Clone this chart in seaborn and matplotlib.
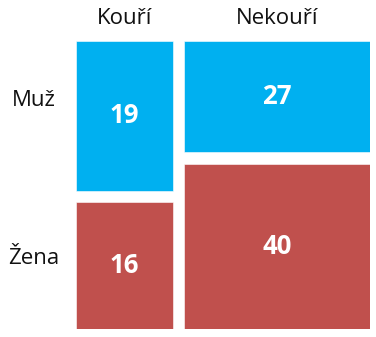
import numpy as np
import pandas as pd
import matplotlib
matplotlib.use("Agg")
import matplotlib.pyplot as plt
import seaborn as sns

columns = ["Kouří", "Nekouří"]
rows = ["Muž", "Žena"]
muz = [19, 27]
zena = [16, 40]
colors = {"Muž": "#00B0F0", "Žena": "#C0504D"}

sns.set_theme(style="white")
plt.rcParams['font.family'] = ['Open Sans', 'DejaVu Sans']

df = pd.DataFrame({"col": columns, "Muž": muz, "Žena": zena})
df["total"] = df["Muž"] + df["Žena"]
grand = df["total"].sum()

xgap = 0.039
ygap = 0.0415

fig = plt.figure(figsize=(3.76, 3.37), dpi=100)
W, H = 376, 337
ax = fig.add_axes([75.5 / W, 1 - 329 / H, (370 - 75.5) / W, (329 - 40.7) / H])

x0 = 0.0
for i, r in df.iterrows():
    w = r["total"] / grand
    y0 = 0.0
    for k, row in enumerate(rows):
        h = r[row] / r["total"]
        ax.bar(x0, h, width=w, bottom=y0, align="edge", color=colors[row],
               edgecolor="white", linewidth=0.4)
        ax.text(x0 + w / 2, y0 + h / 2, str(r[row]), color="white",
                fontsize=18.5, fontweight="bold", ha="center", va="center")
        y0 += h + ygap
    ax.text(x0 + w / 2, -0.082, r["col"], fontsize=16, ha="center",
            va="center", color="#111111")
    x0 += w + xgap

ax.text(-0.147, (100 - 40.7) / 288.3 * (1 + ygap), rows[0], fontsize=16,
        ha="center", va="center", color="#111111")
ax.text(-0.147, (258 - 40.7) / 288.3 * (1 + ygap), rows[1], fontsize=16,
        ha="center", va="center", color="#111111")

ax.set_xlim(0, 1 + xgap)
ax.set_ylim(1 + ygap, 0)
ax.axis("off")
fig.savefig("out.png", dpi=100)
